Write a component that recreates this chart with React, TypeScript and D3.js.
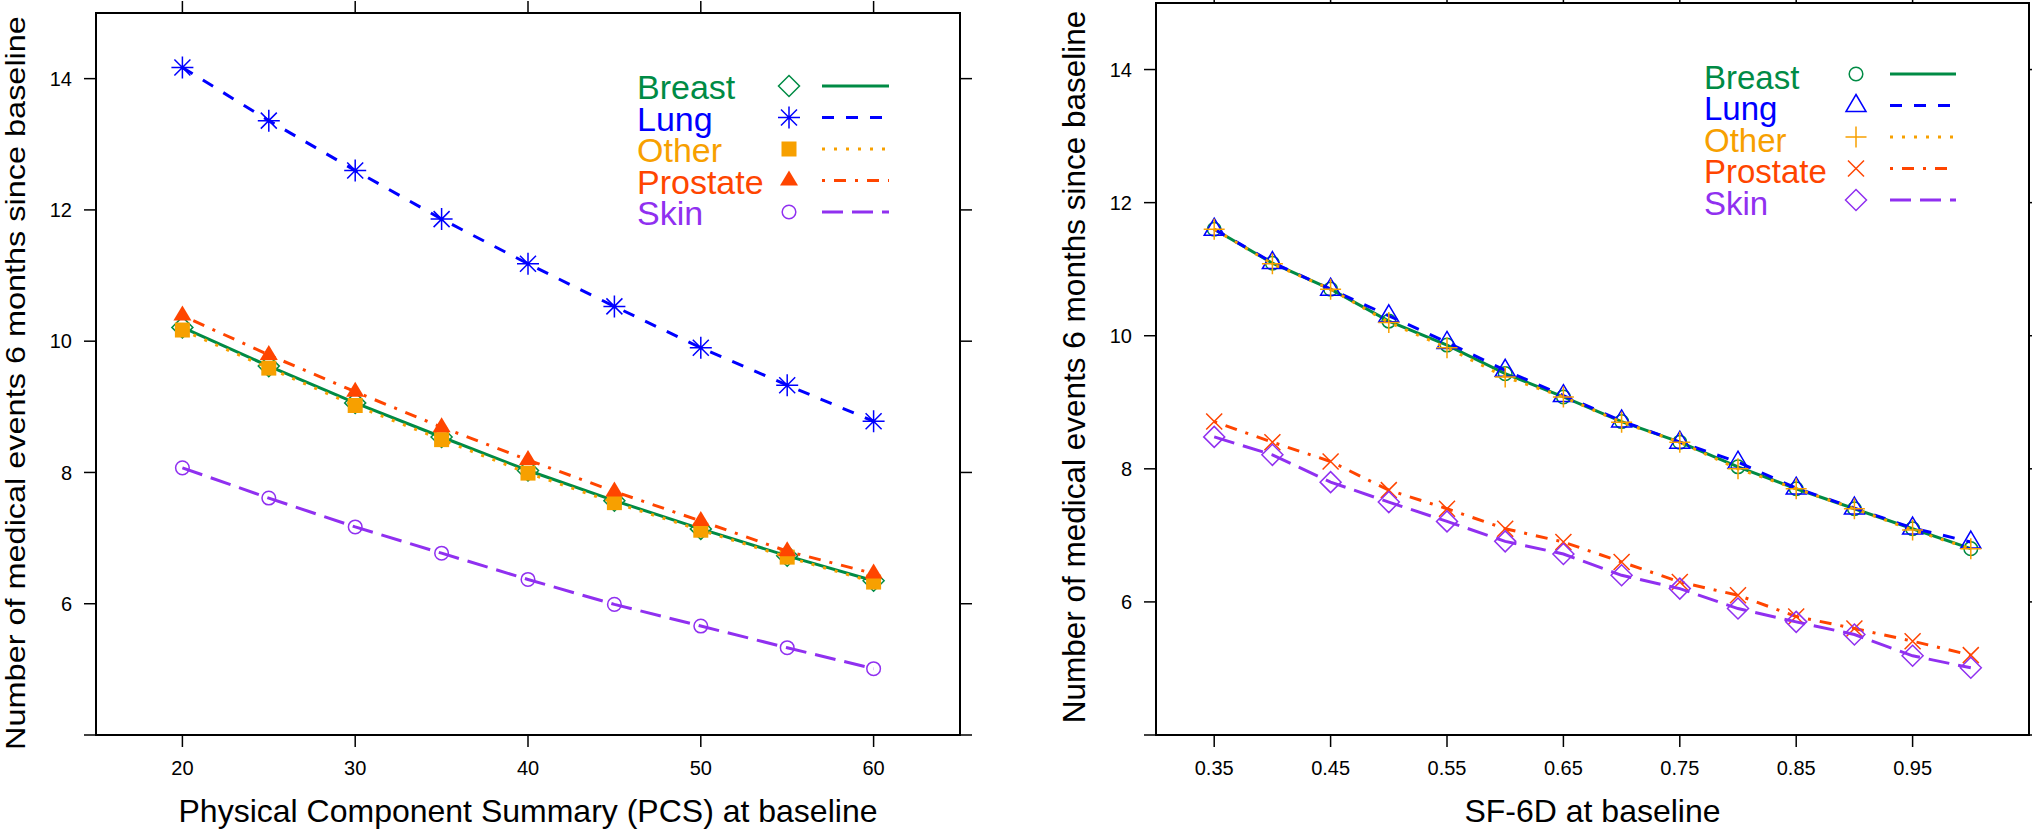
import * as d3 from "d3";
import { useEffect, useRef } from "react";

const seriesNames = ["Breast", "Lung", "Other", "Prostate", "Skin"];
const seriesColors = ["#008b45", "#0000ff", "#f7a000", "#ff4500", "#9030f0"];
const lineDashes = ["none", "12 12", "3 9", "3 9 12 9", "21 9"];

// left panel: PCS at baseline
const pcsValues = [20, 25, 30, 35, 40, 45, 50, 55, 60];
const pcsBreast = [10.21, 9.62, 9.06, 8.54, 8.03, 7.57, 7.14, 6.73, 6.35];
const pcsLung = [14.17, 13.36, 12.6, 11.86, 11.18, 10.53, 9.9, 9.33, 8.78];
const pcsOther = [10.17, 9.59, 9.02, 8.5, 7.99, 7.54, 7.12, 6.71, 6.33];
const pcsProstate = [10.39, 9.79, 9.23, 8.69, 8.19, 7.71, 7.26, 6.8, 6.46];
const pcsSkin = [8.07, 7.61, 7.17, 6.77, 6.37, 5.99, 5.66, 5.33, 5.01];
const pcsTicks = [20, 30, 40, 50, 60];

// right panel: SF-6D at baseline
const sfValues = [0.35, 0.4, 0.45, 0.5, 0.55, 0.6, 0.65, 0.7, 0.75, 0.8, 0.85, 0.9, 0.95, 1.0];
const sfBreast = [11.6, 11.09, 10.7, 10.22, 9.86, 9.43, 9.08, 8.71, 8.4, 8.03, 7.7, 7.4, 7.1, 6.8];
const sfLung = [11.6, 11.1, 10.7, 10.3, 9.9, 9.48, 9.1, 8.72, 8.4, 8.1, 7.71, 7.41, 7.11, 6.9];
const sfOther = [11.6, 11.08, 10.7, 10.2, 9.82, 9.38, 9.08, 8.7, 8.4, 8.0, 7.7, 7.4, 7.08, 6.8];
const sfProstate = [8.71, 8.4, 8.11, 7.68, 7.4, 7.1, 6.9, 6.6, 6.3, 6.1, 5.78, 5.6, 5.41, 5.2];
const sfSkin = [8.48, 8.21, 7.8, 7.5, 7.21, 6.91, 6.72, 6.4, 6.2, 5.9, 5.7, 5.51, 5.19, 5.01];
const sfTicks = [0.35, 0.45, 0.55, 0.65, 0.75, 0.85, 0.95];

const yTicks = [4, 6, 8, 10, 12, 14];
const yTickLabels = ["", "6", "8", "10", "12", "14"];
const yTitle = "Number of medical events 6 months since baseline";

const FONT = "'Liberation Sans', Arial, Helvetica, sans-serif";

type Panel = {
  left: number;
  right: number;
  top: number;
  bottom: number;
  xDomain: [number, number];
  xValues: number[];
  series: number[][];
  xTicks: number[];
  tickFormat: (d: number) => string;
  symbols: string[];
  xTitle: string;
  yTitlePos: { x: number; y: number; size: number; stretch: number };
  legend: { textX: number; markX: number; lineX0: number; lineX1: number; baselines: number[]; markDy: number; fontSize: number };
};

const panels: Panel[] = [
  {
    left: 96,
    right: 960,
    top: 13,
    bottom: 735,
    xDomain: [15, 65],
    xValues: pcsValues,
    series: [pcsBreast, pcsLung, pcsOther, pcsProstate, pcsSkin],
    xTicks: pcsTicks,
    tickFormat: (d) => String(d),
    symbols: ["diamond", "asterisk", "square", "triFilled", "circle"],
    xTitle: "Physical Component Summary (PCS) at baseline",
    yTitlePos: { x: 25, y: 383, size: 27.5, stretch: 1.18 },
    legend: { textX: 637, markX: 789, lineX0: 822, lineX1: 889, baselines: [99, 130.5, 162, 193.5, 225], markDy: -13, fontSize: 34 },
  },
  {
    left: 1156,
    right: 2029,
    top: 3,
    bottom: 735,
    xDomain: [0.3, 1.05],
    xValues: sfValues,
    series: [sfBreast, sfLung, sfOther, sfProstate, sfSkin],
    xTicks: sfTicks,
    tickFormat: (d) => d.toFixed(2),
    symbols: ["circle", "triangle", "plus", "cross", "diamond"],
    xTitle: "SF-6D at baseline",
    yTitlePos: { x: 1085, y: 367, size: 31.5, stretch: 1 },
    legend: { textX: 1704, markX: 1856, lineX0: 1890, lineX1: 1956, baselines: [88.5, 120, 151.5, 183, 214.5], markDy: -14.5, fontSize: 33 },
  },
];

function drawSymbol(g: any, type: string, x: number, y: number, color: string) {
  const sw = 1.5;
  if (type === "diamond") {
    const s = 10.5;
    g.append("path").attr("d", `M${x},${y - s}L${x + s},${y}L${x},${y + s}L${x - s},${y}Z`)
      .attr("fill", "none").attr("stroke", color).attr("stroke-width", sw);
  } else if (type === "asterisk") {
    const s = 11, a = 8;
    g.append("path")
      .attr("d", `M${x - s},${y}H${x + s}M${x},${y - s}V${y + s}M${x - a},${y - a}L${x + a},${y + a}M${x - a},${y + a}L${x + a},${y - a}`)
      .attr("fill", "none").attr("stroke", color).attr("stroke-width", sw);
  } else if (type === "square") {
    const s = 7.5;
    g.append("rect").attr("x", x - s).attr("y", y - s).attr("width", 2 * s).attr("height", 2 * s).attr("fill", color);
  } else if (type === "triFilled") {
    g.append("path").attr("d", `M${x},${y - 10}L${x + 9},${y + 5}L${x - 9},${y + 5}Z`).attr("fill", color);
  } else if (type === "circle") {
    g.append("circle").attr("cx", x).attr("cy", y).attr("r", 6.8)
      .attr("fill", "none").attr("stroke", color).attr("stroke-width", sw);
  } else if (type === "triangle") {
    g.append("path").attr("d", `M${x},${y - 11}L${x + 10},${y + 6}L${x - 10},${y + 6}Z`)
      .attr("fill", "none").attr("stroke", color).attr("stroke-width", sw);
  } else if (type === "plus") {
    const s = 10.5;
    g.append("path").attr("d", `M${x - s},${y}H${x + s}M${x},${y - s}V${y + s}`)
      .attr("fill", "none").attr("stroke", color).attr("stroke-width", sw);
  } else if (type === "cross") {
    const s = 8;
    g.append("path").attr("d", `M${x - s},${y - s}L${x + s},${y + s}M${x - s},${y + s}L${x + s},${y - s}`)
      .attr("fill", "none").attr("stroke", color).attr("stroke-width", sw);
  }
}

function App() {
  const svgRef = useRef<SVGSVGElement>(null);

  useEffect(() => {
    const svg = d3.select(svgRef.current);
    svg.selectAll("*").remove();

    panels.forEach((p) => {
      const x = d3.scaleLinear().domain(p.xDomain).range([p.left, p.right]);
      const y = d3.scaleLinear().domain([4, 15]).range([p.bottom, p.top]);
      const g = svg.append("g");

      // ticks on all four sides
      const tl = 12;
      yTicks.forEach((t, i) => {
        g.append("line").attr("x1", p.left - tl).attr("x2", p.left).attr("y1", y(t)).attr("y2", y(t))
          .attr("stroke", "#000").attr("stroke-width", 1.5);
        g.append("line").attr("x1", p.right).attr("x2", p.right + tl).attr("y1", y(t)).attr("y2", y(t))
          .attr("stroke", "#000").attr("stroke-width", 1.5);
        if (yTickLabels[i])
          g.append("text").attr("x", p.left - tl - 12).attr("y", y(t)).attr("dy", "0.36em")
            .attr("text-anchor", "end").attr("font-family", FONT).attr("font-size", 20).text(yTickLabels[i]);
      });
      p.xTicks.forEach((t) => {
        g.append("line").attr("x1", x(t)).attr("x2", x(t)).attr("y1", p.bottom).attr("y2", p.bottom + tl)
          .attr("stroke", "#000").attr("stroke-width", 1.5);
        g.append("line").attr("x1", x(t)).attr("x2", x(t)).attr("y1", p.top - tl).attr("y2", p.top)
          .attr("stroke", "#000").attr("stroke-width", 1.5);
        g.append("text").attr("x", x(t)).attr("y", 775).attr("text-anchor", "middle")
          .attr("font-family", FONT).attr("font-size", 20).text(p.tickFormat(t));
      });

      g.append("rect").attr("x", p.left).attr("y", p.top).attr("width", p.right - p.left).attr("height", p.bottom - p.top)
        .attr("fill", "none").attr("stroke", "#000").attr("stroke-width", 2);

      // series
      const line = d3.line<number>().x((_, i) => x(p.xValues[i])).y((d) => y(d));
      p.series.forEach((vals, si) => {
        g.append("path").attr("d", line(vals)).attr("fill", "none")
          .attr("stroke", seriesColors[si]).attr("stroke-width", 3)
          .attr("stroke-dasharray", lineDashes[si]);
        vals.forEach((v, i) => drawSymbol(g, p.symbols[si], x(p.xValues[i]), y(v), seriesColors[si]));
      });

      // legend
      const L = p.legend;
      seriesNames.forEach((name, si) => {
        const by = L.baselines[si];
        g.append("text").attr("x", L.textX).attr("y", by).attr("font-family", FONT)
          .attr("font-size", L.fontSize).attr("fill", seriesColors[si]).text(name);
        drawSymbol(g, p.symbols[si], L.markX, by + L.markDy, seriesColors[si]);
        g.append("line").attr("x1", L.lineX0).attr("x2", L.lineX1)
          .attr("y1", by + L.markDy).attr("y2", by + L.markDy)
          .attr("stroke", seriesColors[si]).attr("stroke-width", 3)
          .attr("stroke-dasharray", lineDashes[si]);
      });

      // titles
      g.append("text").attr("x", (p.left + p.right) / 2).attr("y", 822).attr("text-anchor", "middle")
        .attr("font-family", FONT).attr("font-size", 32).text(p.xTitle);
      const yt = p.yTitlePos;
      g.append("text")
        .attr("transform", `translate(${yt.x},${yt.y}) rotate(-90) scale(${yt.stretch},1)`)
        .attr("text-anchor", "middle")
        .attr("font-family", FONT).attr("font-size", yt.size).text(yTitle);
    });
  }, []);

  return (
    <div>
      <style>{`body{margin:0}`}</style>
      <svg ref={svgRef} width={2032} height={831} style={{ display: "block", background: "#fff" }}></svg>
    </div>
  );
}

export default App;
